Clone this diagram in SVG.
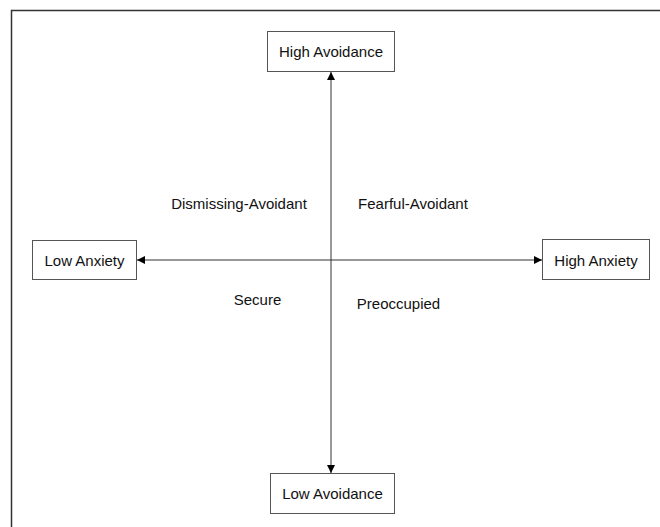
<svg xmlns="http://www.w3.org/2000/svg" width="660" height="527" viewBox="0 0 660 527">
<defs>
<style>
.box{fill:#fff;stroke:#555;stroke-width:1}
.t{font-family:"Liberation Sans",Arial,sans-serif;font-size:15px;fill:#111;text-anchor:middle}
.ln{stroke:#333;stroke-width:1;fill:none}
</style>
<marker id="ah" viewBox="0 0 10 10" refX="10" refY="5" markerWidth="8" markerHeight="8" markerUnits="userSpaceOnUse" orient="auto-start-reverse">
<path d="M0,0 L10,5 L0,10 Z" fill="#000"/>
</marker>
</defs>
<rect width="660" height="527" fill="#fff"/>
<path d="M11.5,527 V10.5 H660" fill="none" stroke="#333" stroke-width="1.5"/>
<g id="connectors">
<line class="ln" x1="331" y1="72" x2="331" y2="473" marker-start="url(#ah)" marker-end="url(#ah)"/>
<line class="ln" x1="137" y1="260" x2="542" y2="260" marker-start="url(#ah)" marker-end="url(#ah)"/>
</g>
<g id="high-avoidance"><rect class="box" x="267.5" y="31.5" width="127" height="40"/><text class="t" x="331" y="56.5">High Avoidance</text></g>
<g id="low-anxiety"><rect class="box" x="32.5" y="240.5" width="104" height="39"/><text class="t" x="84.5" y="265.5">Low Anxiety</text></g>
<g id="high-anxiety"><rect class="box" x="542.5" y="239.5" width="107" height="40"/><text class="t" x="596" y="265.5">High Anxiety</text></g>
<g id="low-avoidance"><rect class="box" x="270.5" y="473.5" width="124" height="40"/><text class="t" x="332.5" y="498.5">Low Avoidance</text></g>
<g id="labels">
<text class="t" x="239" y="208.5">Dismissing-Avoidant</text>
<text class="t" x="413" y="208.5">Fearful-Avoidant</text>
<text class="t" x="257.5" y="304.5">Secure</text>
<text class="t" x="398.5" y="308.5">Preoccupied</text>
</g>
</svg>
